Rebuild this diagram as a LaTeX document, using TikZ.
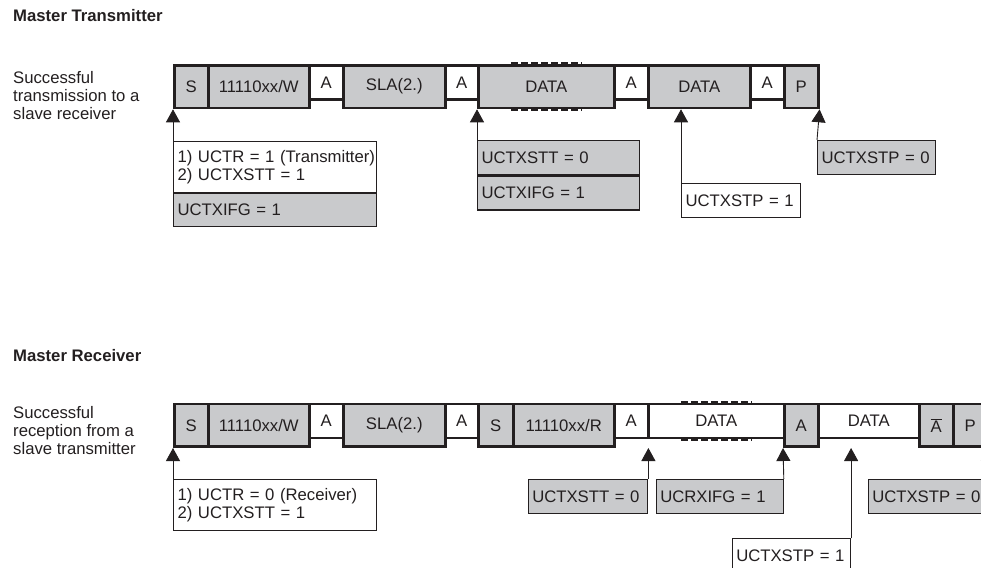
\documentclass[tikz,border=0pt]{standalone}
\usepackage{fontspec}
\setmainfont{Liberation Sans}
\usetikzlibrary{arrows.meta}
\definecolor{fieldgray}{RGB}{201,202,204}
\definecolor{ink}{RGB}{35,31,32}

\begin{document}
\begin{tikzpicture}[x=1pt, y=-1pt, font=\fontsize{16.7}{18}\selectfont, text=ink,
  frame/.style={draw=ink, line width=2.6pt, inner sep=0pt, anchor=north west},
  gfield/.style={frame, fill=fieldgray, minimum height=42.7pt},
  wfield/.style={frame, fill=white, minimum height=34pt},
  regbox/.style={draw=ink, line width=1.1pt, fill=fieldgray, inner xsep=4pt, inner ysep=0pt,
    minimum height=34pt, anchor=north west, align=left, text width=#1},
  wregbox/.style={regbox=#1, fill=white},
  flag/.style={draw=ink, line width=0.9pt, -{Triangle[width=14pt,length=13pt]}},
  repmark/.style={draw=ink, line width=4pt, dash pattern=on 7pt off 3pt},
  lefttext/.style={anchor=north west, inner sep=0pt, align=left}]
\useasboundingbox (0,0) rectangle (981,567);
\clip (0,0) rectangle (981,567);
% --- panel A: master transmitter ---
\begin{scope}
\node[lefttext, font=\fontsize{16.7}{18}\selectfont\bfseries] (ttitle) at (13,9) {Master Transmitter};
\node[lefttext] (tcase) at (13,71) {Successful\\transmission to a\\slave receiver};
\foreach \n/\x/\w/\t/\s in {tS/173/34/S/gfield, tW/207/101/{11110xx/W}/gfield, tA1/308/34/A/wfield,
    tL/342/102/{SLA(2.)}/gfield, tA2/444/33/A/wfield, tD/477/136/DATA/gfield, tA3/613/34/A/wfield,
    tE/647/102/DATA/gfield, tA4/749/34/A/wfield, tP/783/34/P/gfield}
  \node[\s, minimum width=\w pt] (\n) at (\x,64) {\t};
\draw[repmark] ([xshift=-35pt]tD.north) -- ([xshift=36pt]tD.north);
\draw[repmark] ([xshift=-35pt]tD.south) -- ([xshift=36pt]tD.south);
\node[wregbox=195pt, minimum height=51pt] (n1a) at (173,140.7) {\mbox{1) UCTR = 1 (Transmitter)}\\2) UCTXSTT = 1};
\node[regbox=195pt, minimum height=33.3pt] (n1b) at (n1a.south west) {UCTXIFG = 1};
\node[regbox=153.6pt, minimum height=34.3pt] (n2a) at (477,140) {UCTXSTT = 0};
\node[regbox=153.6pt] (n2b) at (n2a.south west) {UCTXIFG = 1};
\node[wregbox=110.6pt] (n3) at (681,182.7) {UCTXSTP = 1};
\node[regbox=110.3pt] (n4) at (817,140) {UCTXSTP = 0};
\draw[flag] (n1a.north west) -- (tS.south west);
\draw[flag] (n2a.north west) -- (tD.south west);
\draw[flag] (n3.north west) -- (n3.north west |- tE.south);
\draw[flag] (n4.north west) -- (tP.south east);
\end{scope}
% --- panel B: master receiver ---
\begin{scope}
\node[lefttext, font=\fontsize{16.7}{18}\selectfont\bfseries] (btitle) at (13,349) {Master Receiver};
\node[lefttext] (bcase) at (13,406) {Successful\\reception from a\\slave transmitter};
\foreach \n/\x/\w/\t/\s in {bS/173/34/S/gfield, bW/207/101/{11110xx/W}/gfield, bA1/308/34/A/wfield,
    bL/342/102/{SLA(2.)}/gfield, bA2/444/33/A/wfield, bS2/477/35/S/gfield, bR/512/101/{11110xx/R}/gfield,
    bA3/613/34/A/wfield, bD/647/136/DATA/wfield, bAg/783/34/A/gfield, bE/817/101/DATA/wfield,
    bN/918/34/{$\overline{\mbox{A}}$}/gfield, bP/952/34/P/gfield}
  \node[\s, minimum width=\w pt] (\n) at (\x,402.7) {\t};
\draw[repmark] ([xshift=-35pt]bD.north) -- ([xshift=36pt]bD.north);
\draw[repmark] ([xshift=-35pt]bD.south) -- ([xshift=36pt]bD.south);
\node[wregbox=195pt, minimum height=51pt] (m1) at (173,479) {1) UCTR = 0 (Receiver)\\2) UCTXSTT = 1};
\node[regbox=111.6pt] (m2) at (527.7,479) {UCTXSTT = 0};
\node[regbox=119pt] (m3) at (655.7,479) {UCRXIFG = 1};
\node[wregbox=110.3pt] (m4) at (731.7,538.3) {UCTXSTP = 1};
\node[regbox=110.3pt] (m5) at (867.7,479) {UCTXSTP = 0};
\draw[flag] (m1.north west) -- (bS.south west);
\draw[flag] (m2.north east) -- (m2.north east |- bS.south);
\draw[flag] (m3.north east) -- (bAg.south west);
\draw[flag] (m4.north east) -- (m4.north east |- bS.south);
\draw[flag] (m5.north east) -- (bP.south east);
\end{scope}
\end{tikzpicture}
\end{document}
